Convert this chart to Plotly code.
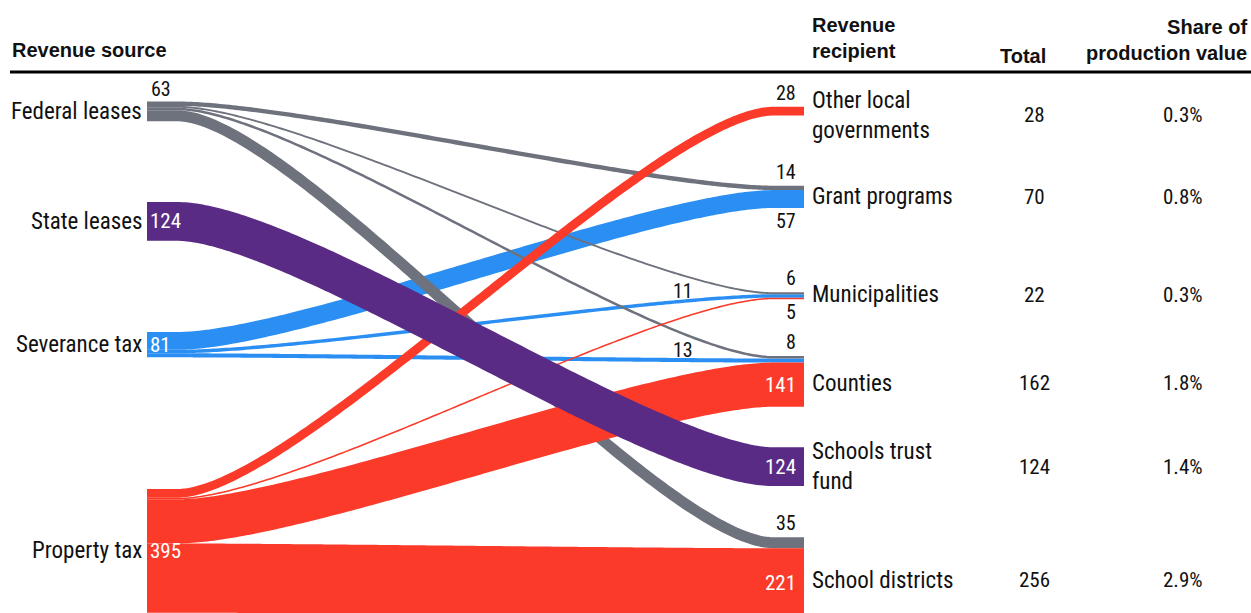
import numpy as np
import plotly.graph_objects as go

# ---------------- data ----------------
sources = ["Federal leases", "State leases", "Severance tax", "Property tax"]
recipients = ["Other local<br>governments", "Grant programs", "Municipalities",
              "Counties", "Schools trust<br>fund", "School districts"]

link_source = [0, 0, 0, 0, 1, 2, 2, 2, 3, 3, 3, 3]
link_target = [1, 2, 3, 5, 4, 1, 2, 3, 0, 2, 3, 5]
link_value = [14, 6, 8, 35, 124, 57, 11, 13, 28, 5, 141, 221]

source_totals = [63, 124, 81, 395]
recipient_totals = [28, 70, 22, 162, 124, 256]
recipient_shares = ["0.3%", "0.8%", "0.3%", "1.8%", "1.4%", "2.9%"]

# ---------------- layout / style ----------------
W, H = 1251, 613
S = 0.313                      # pixels per revenue unit
XL, XR = 147, 804              # node columns (x axis = horizontal layout units)
FLAT = 30                      # straight run at both ends of a ribbon
K = 0.2                        # curve tension
# node tops, in revenue units along the y axis
src_top = [324.3, 645.4, 1060.7, 1562.3]
tgt_top = [340.9, 593.3, 933.9, 1137.4, 1429.1, 1716.6]
row_shift_px = [4, 0, -1, 2, 0, 3]   # fine vertical shift of each table row

GRAY, PURPLE, BLUE, RED = "#6e727d", "#5a2b84", "#2a8ef2", "#fb3a2a"
src_color = [GRAY, PURPLE, BLUE, RED]
src_layer = [1, 3, 0, 2]
src_label_style = ["above", "inside", "inside", "inside"]
link_label_style = ["above", "above", "above", "above", "inside", "below",
                    "mid", "mid", "above", "below", "inside", "inside"]

FONT = "Roboto Condensed, Liberation Sans Narrow, Arial Narrow, sans-serif"
HFONT = "Liberation Sans, Arial, sans-serif"
TXT = "#111111"


def px(p):
    return p / S


def ribbon(x0, y0, x1, y1, n=160):
    a, b = x0 + FLAT, x1 - FLAT
    t = np.linspace(0, 1, n)
    dx = b - a
    bx = [a, a + K * dx, b - K * dx, b]
    by = [y0, y0, y1, y1]
    f = lambda p: ((1 - t) ** 3 * p[0] + 3 * (1 - t) ** 2 * t * p[1]
                   + 3 * (1 - t) * t ** 2 * p[2] + t ** 3 * p[3])
    xs = np.concatenate([[x0], f(bx), [x1]])
    ys = np.concatenate([[y0], f(by), [y1]])
    return xs, ys


# stacking offsets
src_off = [0.0] * len(sources)
tgt_off = [0.0] * len(recipients)
s_pos = {}
for i in sorted(range(len(link_value)), key=lambda i: (link_source[i], link_target[i])):
    s = link_source[i]
    s_pos[i] = src_top[s] + src_off[s]
    src_off[s] += link_value[i]
t_pos = {}
for i in sorted(range(len(link_value)), key=lambda i: (link_target[i], link_source[i])):
    t = link_target[i]
    t_pos[i] = tgt_top[t] + tgt_off[t]
    tgt_off[t] += link_value[i]

fig = go.Figure()

for layer in range(4):
    for i in range(len(link_value)):
        s = link_source[i]
        if src_layer[s] != layer:
            continue
        v = link_value[i]
        bx, by = ribbon(XL, s_pos[i] + v / 2, XR, t_pos[i] + v / 2)
        fig.add_trace(go.Scatter(
            x=bx, y=by, mode="lines",
            line=dict(color=src_color[s], width=v * S, simplify=False),
            hoverinfo="skip", showlegend=False))

ann = []


def add(text, x, y, xanchor="left", size=20, color=TXT, bold=False, family=FONT):
    ann.append(dict(text=("<b>%s</b>" % text) if bold else text, x=x, y=y,
                    xref="x", yref="y", xanchor=xanchor, yanchor="middle",
                    align=xanchor if xanchor != "center" else "center",
                    showarrow=False, font=dict(family=family, size=size, color=color)))


# source labels
for k, name in enumerate(sources):
    c = src_top[k] + source_totals[k] / 2
    add(name, XL - 3, c, xanchor="right", size=23)
    if src_label_style[k] == "inside":
        add(str(source_totals[k]), XL + 1, c, xanchor="left", size=21, color="white")
    else:
        add(str(source_totals[k]), XL + 14, src_top[k] - px(13), xanchor="center", size=20)

# recipient labels and table
for k, name in enumerate(recipients):
    c = tgt_top[k] + tgt_off[k] / 2 + px(row_shift_px[k])
    add(name, XR + 6, c, xanchor="left", size=23)
    add(str(recipient_totals[k]), 1034, c, xanchor="center", size=21)
    add(recipient_shares[k], 1205, c, xanchor="right", size=21)

# link value labels
for i in range(len(link_value)):
    v = link_value[i]
    st = link_label_style[i]
    top = t_pos[i]
    if st == "above":
        add(str(v), XR - 6, top - px(14), xanchor="right")
    elif st == "below":
        add(str(v), XR - 6, top + v + px(13), xanchor="right")
    elif st == "inside":
        add(str(v), XR - 6, top + v / 2, xanchor="right", size=21, color="white")
    else:
        bx, by = ribbon(XL, s_pos[i] + v / 2, XR, top + v / 2)
        ym = float(np.interp(683, bx, by))
        add(str(v), 683, ym - px(10), xanchor="center")

# headers
add("Revenue source", 10, px(50), bold=True, family=HFONT)
add("Revenue<br>recipient", XR + 6, px(38), bold=True, family=HFONT)
add("Total", 1023, px(56), xanchor="center", bold=True, family=HFONT)
add("Share of<br>production value", 1249, px(40), xanchor="right", bold=True, family=HFONT)

fig.update_layout(
    width=W, height=H,
    margin=dict(l=0, r=0, t=0, b=0),
    paper_bgcolor="white", plot_bgcolor="white",
    xaxis=dict(range=[0, W], visible=False, fixedrange=True),
    yaxis=dict(range=[H / S, 0], visible=False, fixedrange=True),
    annotations=ann,
    shapes=[dict(type="line", xref="x", yref="y", x0=10, x1=W, y0=px(72), y1=px(72),
                 line=dict(color="#000000", width=3))],
    showlegend=False,
)

fig.write_html("out.html",
               config={"displayModeBar": False, "staticPlot": True},
               post_script="document.body.style.margin='0px';"
                           "document.body.style.overflow='hidden';")
